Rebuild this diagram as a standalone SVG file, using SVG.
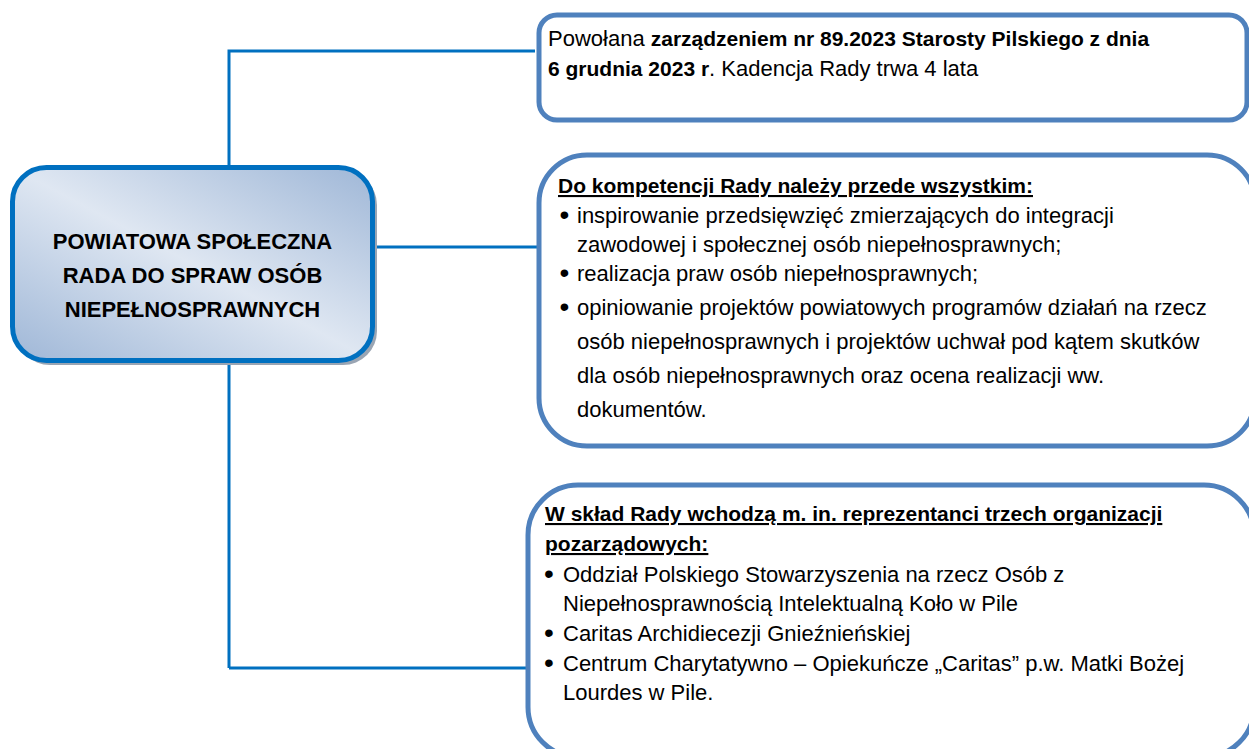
<svg xmlns="http://www.w3.org/2000/svg" width="1249" height="749" viewBox="0 0 1249 749">
  <style>
    .conn { stroke: #0070C0; stroke-width: 3; fill: none; }
    .box { fill: #ffffff; stroke: #4F81BD; stroke-width: 5; }
    .t { font-family: "Liberation Sans", Arial, sans-serif; font-size: 22px; fill: #000000; }
    .b { font-weight: bold; font-size: 21px; }
    .u { text-decoration: underline; }
    .dot { font-family: "Liberation Sans", Arial, sans-serif; font-size: 28px; fill: #000000; }
    .main { font-family: "Liberation Sans", Arial, sans-serif; font-size: 22px; font-weight: bold; fill: #000000; text-anchor: middle; }
  </style>
  <defs>
    <linearGradient id="g" x1="1" y1="0" x2="0" y2="1">
      <stop offset="0" stop-color="#9fb7d7"/>
      <stop offset="0.5" stop-color="#dfe7f2"/>
      <stop offset="1" stop-color="#9fb7d7"/>
    </linearGradient>
  </defs>
  <rect width="1249" height="749" fill="#ffffff"/>
  <g id="connectors">
    <polyline class="conn" points="535,51 229,51 229,167"/>
    <line class="conn" x1="229" y1="361" x2="229" y2="668"/>
    <line class="conn" x1="229" y1="668" x2="528" y2="668"/>
    <line class="conn" x1="375" y1="247" x2="539" y2="247"/>
  </g>
  <g id="main-node">
    <rect x="16" y="171" width="361" height="194" rx="34" fill="#9aa5b3"/>
    <rect x="12.5" y="167.5" width="360" height="193" rx="34" fill="url(#g)" stroke="#0070C0" stroke-width="5"/>
    <text class="main" x="192.5" y="249">POWIATOWA SPOŁECZNA</text>
    <text class="main" x="192.5" y="283">RADA DO SPRAW OSÓB</text>
    <text class="main" x="192.5" y="317">NIEPEŁNOSPRAWNYCH</text>
  </g>
  <g id="node-powolana">
    <rect class="box" x="539" y="15" width="708" height="105" rx="18"/>
    <text class="t" x="548" y="46">Powołana <tspan class="b">zarządzeniem nr 89.2023 Starosty Pilskiego z dnia</tspan></text>
    <text class="t" x="548" y="76"><tspan class="b">6 grudnia 2023 r</tspan>. Kadencja Rady trwa 4 lata</text>
  </g>
  <g id="node-kompetencje">
    <rect class="box" x="539" y="155" width="716" height="291" rx="48"/>
    <text class="t b u" x="558" y="193">Do kompetencji Rady należy przede wszystkim:</text>
    <text class="dot" x="559.5" y="224">•</text>
    <text class="t" x="577" y="223">inspirowanie przedsięwzięć zmierzających do integracji</text>
    <text class="t" x="577" y="252">zawodowej i społecznej osób niepełnosprawnych;</text>
    <text class="dot" x="559.5" y="282">•</text>
    <text class="t" x="577" y="281">realizacja praw osób niepełnosprawnych;</text>
    <text class="dot" x="559.5" y="316">•</text>
    <text class="t" x="577" y="315">opiniowanie projektów powiatowych programów działań na rzecz</text>
    <text class="t" x="577" y="349">osób niepełnosprawnych i projektów uchwał pod kątem skutków</text>
    <text class="t" x="577" y="383">dla osób niepełnosprawnych oraz ocena realizacji ww.</text>
    <text class="t" x="577" y="417">dokumentów.</text>
  </g>
  <g id="node-sklad">
    <rect class="box" x="528" y="485" width="726" height="272" rx="50"/>
    <text class="t b u" x="545" y="521">W skład Rady wchodzą m. in. reprezentanci trzech organizacji</text>
    <text class="t b u" x="545" y="551">pozarządowych:</text>
    <text class="dot" x="544" y="583">•</text>
    <text class="t" x="563" y="582">Oddział Polskiego Stowarzyszenia na rzecz Osób z</text>
    <text class="t" x="563" y="611">Niepełnosprawnością Intelektualną Koło w Pile</text>
    <text class="dot" x="544" y="642">•</text>
    <text class="t" x="563" y="641">Caritas Archidiecezji Gnieźnieńskiej</text>
    <text class="dot" x="544" y="672">•</text>
    <text class="t" x="563" y="671">Centrum Charytatywno – Opiekuńcze „Caritas” p.w. Matki Bożej</text>
    <text class="t" x="563" y="700">Lourdes w Pile.</text>
  </g>
</svg>
